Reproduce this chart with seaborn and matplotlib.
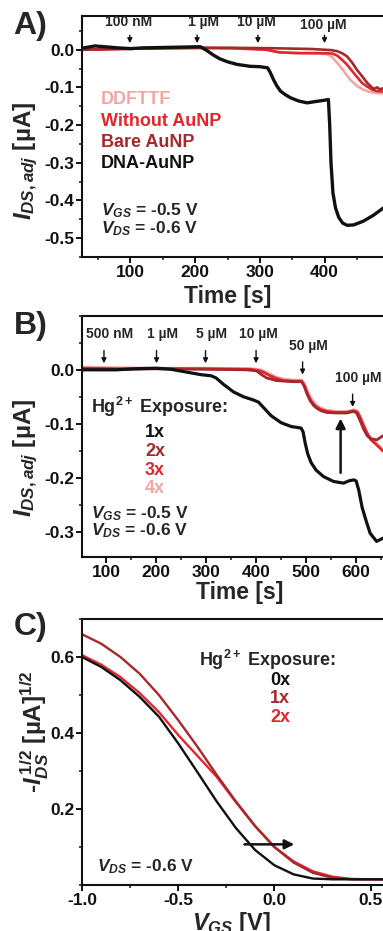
import numpy as np
import pandas as pd
import matplotlib.pyplot as plt
import seaborn as sns
from matplotlib.ticker import MultipleLocator, FixedLocator

# ---------------- data ----------------
# Panel A: response of the different devices
a_dna_t = [28, 45, 60, 80, 100, 120, 150, 180, 208, 218, 228, 238, 250, 265, 285, 300, 312, 316, 321, 326, 332, 340, 348, 360, 373, 388, 400, 406, 408, 410, 413, 417, 422, 428, 435, 445, 460, 475, 491]
a_dna_i = [0.005, 0.010, 0.008, 0.005, 0.003, 0.005, 0.006, 0.007, 0.008, -0.002, -0.014, -0.024, -0.032, -0.039, -0.044, -0.045, -0.048, -0.060, -0.079, -0.095, -0.110, -0.120, -0.128, -0.136, -0.141, -0.137, -0.134, -0.132, -0.200, -0.300, -0.380, -0.420, -0.445, -0.460, -0.466, -0.465, -0.455, -0.440, -0.420]

a_bare_t = [25, 80, 150, 200, 260, 320, 380, 410, 420, 428, 435, 443, 450, 458, 466, 472, 476, 481, 486, 491]
a_bare_i = [0.000, 0.002, 0.004, 0.005, 0.005, 0.004, 0.002, -0.001, -0.004, -0.010, -0.018, -0.035, -0.053, -0.070, -0.088, -0.098, -0.104, -0.100, -0.105, -0.102]

a_noau_t = [25, 80, 150, 200, 260, 310, 330, 360, 390, 412, 420, 428, 435, 442, 450, 458, 466, 474, 481, 491]
a_noau_i = [0.000, 0.002, 0.004, 0.005, 0.004, 0.000, -0.007, -0.009, -0.009, -0.010, -0.016, -0.028, -0.040, -0.055, -0.072, -0.088, -0.098, -0.106, -0.110, -0.111]

a_ddfttf_t = [25, 80, 150, 200, 260, 310, 330, 360, 390, 405, 412, 418, 425, 432, 440, 450, 460, 470, 480, 491]
a_ddfttf_i = [0.000, 0.002, 0.004, 0.005, 0.004, 0.000, -0.007, -0.009, -0.010, -0.012, -0.020, -0.032, -0.046, -0.062, -0.080, -0.096, -0.106, -0.112, -0.115, -0.116]

a_conc = ["100 nM", "1 µM", "10 µM", "100 µM"]
a_conc_t = [99, 203, 297, 400]
a_series = ["DDFTTF", "Without AuNP", "Bare AuNP", "DNA-AuNP"]

# Panel B: repeated Hg2+ exposure
b_1x_t = [52, 80, 120, 160, 200, 230, 260, 290, 310, 320, 335, 355, 375, 395, 405, 415, 430, 450, 470, 490, 494, 498, 503, 510, 520, 535, 555, 575, 585, 595, 600, 605, 612, 620, 628, 641, 654]
b_1x_i = [0.000, 0.000, 0.000, 0.002, 0.003, 0.001, -0.004, -0.009, -0.011, -0.015, -0.027, -0.041, -0.050, -0.056, -0.060, -0.070, -0.085, -0.098, -0.105, -0.108, -0.115, -0.135, -0.155, -0.172, -0.186, -0.198, -0.207, -0.210, -0.206, -0.204, -0.206, -0.222, -0.255, -0.280, -0.303, -0.318, -0.312]

b_2x_t = [52, 120, 200, 300, 380, 401, 411, 421, 441, 475, 491, 496, 502, 508, 515, 521, 530, 541, 560, 581, 595, 601, 607, 615, 622, 628, 641, 654]
b_2x_i = [0.002, 0.001, 0.002, 0.001, 0.000, -0.002, -0.009, -0.015, -0.020, -0.022, -0.022, -0.030, -0.045, -0.057, -0.066, -0.071, -0.076, -0.079, -0.080, -0.080, -0.077, -0.080, -0.092, -0.110, -0.122, -0.127, -0.130, -0.122]

b_3x_t = [52, 120, 200, 300, 390, 408, 418, 428, 441, 455, 475, 491, 497, 503, 510, 518, 528, 541, 560, 581, 595, 602, 608, 615, 622, 630, 641, 654]
b_3x_i = [0.003, 0.002, 0.002, 0.002, 0.001, -0.002, -0.006, -0.011, -0.016, -0.020, -0.021, -0.021, -0.030, -0.045, -0.058, -0.067, -0.073, -0.077, -0.079, -0.079, -0.076, -0.078, -0.088, -0.104, -0.118, -0.130, -0.139, -0.151]

b_4x_t = [52, 120, 200, 300, 390, 410, 420, 430, 441, 455, 475, 491, 497, 503, 510, 518, 528, 541, 560, 581, 595, 602, 608, 615, 622, 630, 641, 654]
b_4x_i = [0.005, 0.004, 0.003, 0.003, 0.002, 0.000, -0.004, -0.009, -0.014, -0.017, -0.019, -0.019, -0.026, -0.040, -0.053, -0.063, -0.070, -0.075, -0.077, -0.077, -0.074, -0.076, -0.086, -0.101, -0.116, -0.128, -0.137, -0.148]

b_conc = ["500 nM", "1 µM", "5 µM", "10 µM", "50 µM", "100 µM"]
b_conc_t = [96, 201, 299, 400, 493, 593]
b_series = ["1x", "2x", "3x", "4x"]

# Panel C: transfer curves
c_vgs = [-1.0, -0.9, -0.8, -0.7, -0.6, -0.5, -0.4, -0.3, -0.2, -0.1, 0.0, 0.1, 0.2, 0.3, 0.4, 0.5, 0.6]
c_0x = [0.600, 0.574, 0.539, 0.495, 0.443, 0.373, 0.297, 0.220, 0.150, 0.092, 0.052, 0.028, 0.017, 0.015, 0.015, 0.015, 0.015]
c_1x = [0.660, 0.635, 0.600, 0.556, 0.500, 0.434, 0.364, 0.290, 0.220, 0.155, 0.100, 0.059, 0.032, 0.019, 0.015, 0.015, 0.015]
c_2x = [0.605, 0.580, 0.547, 0.505, 0.455, 0.395, 0.340, 0.285, 0.218, 0.155, 0.100, 0.062, 0.036, 0.022, 0.016, 0.015, 0.015]
c_series = ["0x", "1x", "2x"]

# ---------------- style ----------------
sns.set_style("ticks")
plt.rcParams["font.family"] = ["Liberation Sans", "DejaVu Sans"]
plt.rcParams["font.weight"] = "bold"
plt.rcParams["axes.unicode_minus"] = False
plt.rcParams["mathtext.fontset"] = "custom"
plt.rcParams["mathtext.rm"] = "Liberation Sans:bold"
plt.rcParams["mathtext.bf"] = "Liberation Sans:bold"
plt.rcParams["mathtext.it"] = "Liberation Sans:italic:bold"

BLACK = "#111111"
DRED = "#A5282C"
RED = "#E2262E"
PINK = "#F2A6A6"

fig = plt.figure(figsize=(3.83, 9.31), dpi=100)
axA = fig.add_axes([0.214, 0.724, 0.836, 0.259])
axB = fig.add_axes([0.214, 0.4017, 0.836, 0.259])
axC = fig.add_axes([0.214, 0.0494, 0.836, 0.2857])


def style_axis(ax):
    for s in ax.spines.values():
        s.set_linewidth(1.5)
        s.set_color("#111111")
    ax.tick_params(which="major", direction="out", length=4, width=1.4,
                   labelsize=12.5, colors="#111111", pad=1.5)
    ax.tick_params(which="minor", direction="out", length=2.5, width=1.2)
    for lab in ax.get_xticklabels() + ax.get_yticklabels():
        lab.set_fontweight("bold")


# ---------------- panel A ----------------
dfA = pd.concat([
    pd.DataFrame({"t": a_ddfttf_t, "i": a_ddfttf_i, "s": a_series[0]}),
    pd.DataFrame({"t": a_noau_t, "i": a_noau_i, "s": a_series[1]}),
    pd.DataFrame({"t": a_bare_t, "i": a_bare_i, "s": a_series[2]}),
    pd.DataFrame({"t": a_dna_t, "i": a_dna_i, "s": a_series[3]}),
])
palA = dict(zip(a_series, [PINK, RED, DRED, BLACK]))
for name in a_series:
    sub = dfA[dfA["s"] == name]
    sns.lineplot(data=sub, x="t", y="i", color=palA[name], ax=axA,
                 lw=2.4 if name == "DNA-AuNP" else 1.9, estimator=None, sort=False)
axA.set_xlim(25, 520)
axA.set_ylim(-0.55, 0.09)
axA.xaxis.set_major_locator(FixedLocator([100, 200, 300, 400]))
axA.xaxis.set_minor_locator(FixedLocator([50, 150, 250, 350, 450]))
axA.yaxis.set_major_locator(FixedLocator([0.0, -0.1, -0.2, -0.3, -0.4, -0.5]))
axA.yaxis.set_minor_locator(MultipleLocator(0.05))
axA.yaxis.set_major_formatter(plt.FormatStrFormatter("%.1f"))
axA.set_xlabel("Time [s]", fontsize=16.5, fontweight="bold")
axA.set_ylabel(r"$I_{DS,adj}$ [µA]", fontsize=17.5, fontweight="bold")
axA.xaxis.set_label_coords(0.456, -0.115)
axA.yaxis.set_label_coords(-0.13, 0.40)
style_axis(axA)

for lab, t in zip(a_conc, a_conc_t):
    axA.annotate("", xy=(t, 0.010), xytext=(t, 0.046),
                 arrowprops=dict(arrowstyle="-|>", lw=1.0, color=BLACK, mutation_scale=7))
    axA.text(t - 2 if lab != "1 µM" else t + 10, 0.054 if lab != "100 µM" else 0.046,
             lab, ha="center", va="bottom", fontsize=10, fontweight="bold")

for k, (name, y) in enumerate(zip(a_series, [-0.132, -0.190, -0.246, -0.302])):
    axA.text(54, y, name, color=palA[name], fontsize=13, fontweight="bold", va="center")
axA.text(54, -0.428, r"$V_{GS}$ = -0.5 V", fontsize=12.5, fontweight="bold", va="center")
axA.text(54, -0.476, r"$V_{DS}$ = -0.6 V", fontsize=12.5, fontweight="bold", va="center")

# ---------------- panel B ----------------
palB = dict(zip(b_series, [BLACK, DRED, RED, PINK]))
dfB = pd.concat([
    pd.DataFrame({"t": b_4x_t, "i": b_4x_i, "s": "4x"}),
    pd.DataFrame({"t": b_3x_t, "i": b_3x_i, "s": "3x"}),
    pd.DataFrame({"t": b_2x_t, "i": b_2x_i, "s": "2x"}),
    pd.DataFrame({"t": b_1x_t, "i": b_1x_i, "s": "1x"}),
])
for name in ["4x", "3x", "2x", "1x"]:
    sub = dfB[dfB["s"] == name]
    sns.lineplot(data=sub, x="t", y="i", color=palB[name], ax=axB,
                 lw=2.3 if name == "1x" else 2.0, estimator=None, sort=False)
axB.set_xlim(52, 692)
axB.set_ylim(-0.347, 0.1)
axB.xaxis.set_major_locator(FixedLocator([100, 200, 300, 400, 500, 600]))
axB.xaxis.set_minor_locator(FixedLocator([50, 150, 250, 350, 450, 550, 650]))
axB.yaxis.set_major_locator(FixedLocator([0.0, -0.1, -0.2, -0.3]))
axB.yaxis.set_minor_locator(MultipleLocator(0.05))
axB.yaxis.set_major_formatter(plt.FormatStrFormatter("%.1f"))
axB.set_xlabel("Time [s]", fontsize=16.5, fontweight="bold")
axB.set_ylabel(r"$I_{DS,adj}$ [µA]", fontsize=17.5, fontweight="bold")
axB.xaxis.set_label_coords(0.494, -0.10)
axB.yaxis.set_label_coords(-0.13, 0.41)
style_axis(axB)

b_lab_y = [0.053, 0.053, 0.053, 0.053, 0.032, -0.028]
for lab, t, y in zip(b_conc, b_conc_t, b_lab_y):
    axB.annotate("", xy=(t, y - 0.046), xytext=(t, y - 0.012),
                 arrowprops=dict(arrowstyle="-|>", lw=1.0, color=BLACK, mutation_scale=7))
    axB.text(t + 12 if lab != "10 µM" else t + 4, y, lab, ha="center", va="bottom",
             fontsize=10, fontweight="bold")

axB.text(70, -0.068, r"Hg$^{2+}$ Exposure:", fontsize=13, fontweight="bold", va="center")
for name, y in zip(b_series, [-0.117, -0.152, -0.186, -0.220]):
    axB.text(198, y, name, color=palB[name], fontsize=13, fontweight="bold",
             va="center", ha="center")
axB.text(70, -0.266, r"$V_{GS}$ = -0.5 V", fontsize=12.5, fontweight="bold", va="center")
axB.text(70, -0.298, r"$V_{DS}$ = -0.6 V", fontsize=12.5, fontweight="bold", va="center")
axB.annotate("", xy=(569, -0.085), xytext=(569, -0.196),
             arrowprops=dict(arrowstyle="-|>", lw=1.8, color=BLACK, mutation_scale=14))

# ---------------- panel C ----------------
palC = dict(zip(c_series, [BLACK, DRED, RED]))
dfC = pd.concat([
    pd.DataFrame({"v": c_vgs, "i": c_2x, "s": "2x"}),
    pd.DataFrame({"v": c_vgs, "i": c_1x, "s": "1x"}),
    pd.DataFrame({"v": c_vgs, "i": c_0x, "s": "0x"}),
])
for name in ["2x", "1x", "0x"]:
    sub = dfC[dfC["s"] == name]
    sns.lineplot(data=sub, x="v", y="i", color=palC[name], ax=axC,
                 lw=1.7, estimator=None, sort=False)
axC.set_xlim(-1.0, 0.664)
axC.set_ylim(0.0, 0.7)
axC.xaxis.set_major_locator(FixedLocator([-1.0, -0.5, 0.0, 0.5]))
axC.xaxis.set_minor_locator(MultipleLocator(0.25))
axC.yaxis.set_major_locator(FixedLocator([0.2, 0.4, 0.6]))
axC.yaxis.set_minor_locator(MultipleLocator(0.1))
axC.xaxis.set_major_formatter(plt.FormatStrFormatter("%.1f"))
axC.yaxis.set_major_formatter(plt.FormatStrFormatter("%.1f"))
axC.set_xlabel(r"$V_{GS}$ [V]", fontsize=17, fontweight="bold")
axC.set_ylabel(r"-$I_{DS}^{\,1/2}$ [µA]$^{1/2}$", fontsize=17.5, fontweight="bold")
axC.xaxis.set_label_coords(0.468, -0.095)
axC.yaxis.set_label_coords(-0.098, 0.575)
style_axis(axC)

axC.text(-0.39, 0.592, r"Hg$^{2+}$ Exposure:", fontsize=13, fontweight="bold", va="center")
for name, y in zip(c_series, [0.538, 0.490, 0.442]):
    axC.text(0.03, y, name, color=palC[name], fontsize=13, fontweight="bold",
             va="center", ha="center")
axC.text(-0.92, 0.049, r"$V_{DS}$ = -0.6 V", fontsize=12.5, fontweight="bold", va="center")
axC.annotate("", xy=(0.118, 0.107), xytext=(-0.17, 0.107),
             arrowprops=dict(arrowstyle="-|>", lw=1.8, color=BLACK, mutation_scale=14))

# panel letters
for letter, y in zip(["A)", "B)", "C)"], [0.972, 0.650, 0.327]):
    fig.text(0.035, y, letter, fontsize=23, fontweight="bold", va="center", ha="left")

fig.savefig("out.png", dpi=100)
